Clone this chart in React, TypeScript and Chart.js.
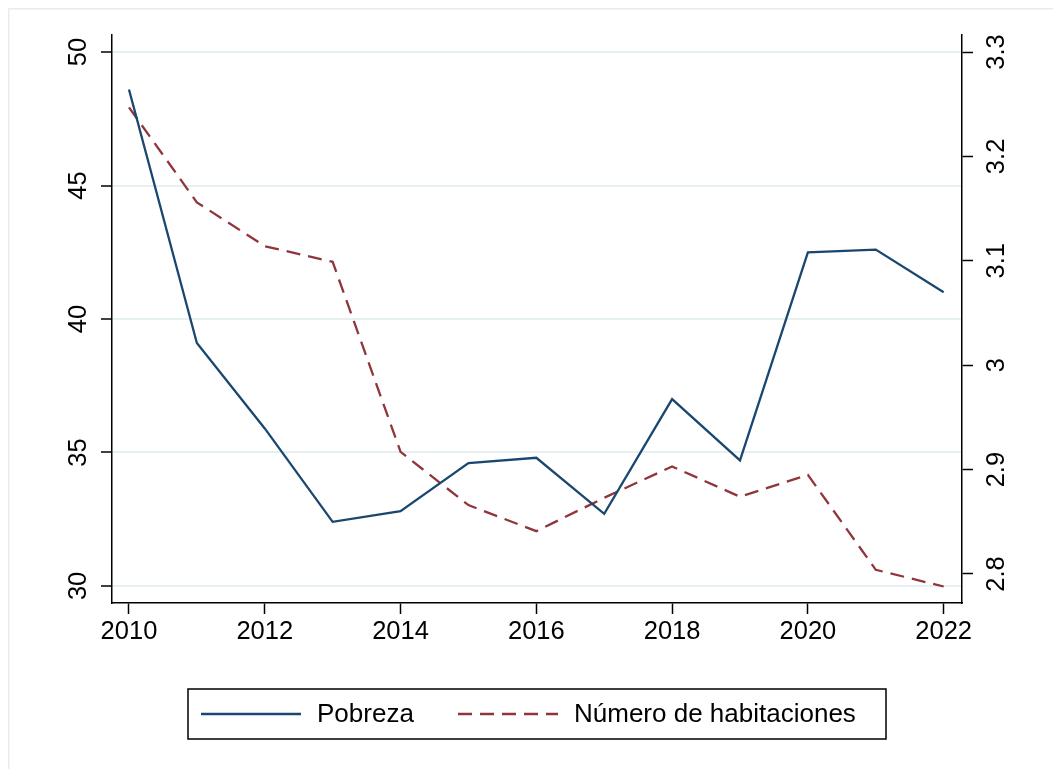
import React, { useEffect, useRef } from "react";
import { Chart, registerables } from "chart.js";

Chart.register(...registerables);

const years = [2010, 2011, 2012, 2013, 2014, 2015, 2016, 2017, 2018, 2019, 2020, 2021, 2022];
const pobreza = [48.6, 39.1, 35.9, 32.4, 32.8, 34.6, 34.8, 32.7, 37.0, 34.7, 42.5, 42.6, 41.0];
const habitaciones = [3.247, 3.156, 3.114, 3.099, 2.917, 2.866, 2.841, 2.873, 2.903, 2.874, 2.895, 2.804, 2.788];
const xTicks = [2010, 2012, 2014, 2016, 2018, 2020, 2022];
const leftTicks = [30, 35, 40, 45, 50];
const rightTicks = [2.8, 2.9, 3.0, 3.1, 3.2, 3.3];
const seriesLabels = ["Pobreza", "Número de habitaciones"];

const FONT = "'Liberation Sans', Arial, sans-serif";
const NAVY = "#1a476f";
const MAROON = "#90353b";
const GRID = "#e6eff1";

const framePlugin = {
  id: "frame",
  beforeDraw(chart: any) {
    const ctx = chart.ctx;
    ctx.save();
    ctx.strokeStyle = "#e6edef";
    ctx.lineWidth = 1.5;
    ctx.beginPath();
    ctx.moveTo(0.75, chart.height);
    ctx.lineTo(0.75, 0.75);
    ctx.lineTo(chart.width, 0.75);
    ctx.stroke();
    ctx.restore();
  },
};

const legendPlugin = {
  id: "boxLegend",
  afterDraw(chart: any) {
    const ctx = chart.ctx;
    const area = chart.chartArea;
    const cx = (area.left + area.right) / 2;
    const boxW = 698;
    const boxH = 50;
    const left = cx - boxW / 2;
    const top = area.bottom + 86;
    const midY = top + boxH / 2;
    ctx.save();
    ctx.strokeStyle = "#000";
    ctx.lineWidth = 1.5;
    ctx.strokeRect(left, top, boxW, boxH);
    const offsets = [13, 270];
    chart.data.datasets.forEach((ds: any, i: number) => {
      const x0 = left + offsets[i];
      ctx.beginPath();
      ctx.strokeStyle = ds.borderColor;
      ctx.lineWidth = ds.borderWidth;
      ctx.setLineDash(ds.borderDash || []);
      ctx.moveTo(x0, midY);
      ctx.lineTo(x0 + 100, midY);
      ctx.stroke();
      ctx.setLineDash([]);
      ctx.fillStyle = "#000";
      ctx.font = `26px ${FONT}`;
      ctx.textAlign = "left";
      ctx.textBaseline = "middle";
      ctx.fillText(ds.label, x0 + 116, midY + 1);
    });
    ctx.restore();
  },
};

export default function App() {
  const ref = useRef<HTMLCanvasElement | null>(null);

  useEffect(() => {
    if (!ref.current) return;
    const chart = new Chart(ref.current, {
      type: "line",
      data: {
        datasets: [
          {
            label: seriesLabels[0],
            data: years.map((yr, i) => ({ x: yr, y: pobreza[i] })),
            borderColor: NAVY,
            backgroundColor: NAVY,
            borderWidth: 2.3,
            pointRadius: 0,
            tension: 0,
            yAxisID: "y",
          },
          {
            label: seriesLabels[1],
            data: years.map((yr, i) => ({ x: yr, y: habitaciones[i] })),
            borderColor: MAROON,
            backgroundColor: MAROON,
            borderWidth: 2.3,
            borderDash: [14, 8],
            pointRadius: 0,
            tension: 0,
            yAxisID: "y1",
          },
        ],
      },
      options: {
        responsive: false,
        animation: false,
        events: [],
        layout: { padding: { top: 27, bottom: 106, left: 0, right: 0 } },
        plugins: { legend: { display: false }, tooltip: { enabled: false } },
        scales: {
          x: {
            type: "linear",
            min: 2009.75,
            max: 2022.27,
            afterBuildTicks: (s: any) => {
              s.ticks = xTicks.map((v) => ({ value: v }));
            },
            afterFit: (s: any) => {
              s.height = 60;
            },
            grid: {
              drawOnChartArea: false,
              drawTicks: true,
              tickLength: 11,
              tickColor: "#000",
              tickWidth: 1.5,
            },
            border: { display: true, color: "#000", width: 1.5 },
            ticks: {
              color: "#000",
              font: { family: FONT, size: 25.5 },
              padding: 3,
              maxRotation: 0,
              minRotation: 0,
              callback: (v: any) => String(v),
            },
          },
          y: {
            type: "linear",
            position: "left",
            min: 29.36,
            max: 50.64,
            afterBuildTicks: (s: any) => {
              s.ticks = leftTicks.map((v) => ({ value: v }));
            },
            afterFit: (s: any) => {
              s.width = 104;
            },
            grid: {
              color: GRID,
              lineWidth: 2,
              drawTicks: true,
              tickLength: 11,
              tickColor: "#000",
              tickWidth: 1.5,
            },
            border: { display: true, color: "#000", width: 1.5 },
            ticks: {
              color: "#000",
              font: { family: FONT, size: 25.5 },
              minRotation: 90,
              maxRotation: 90,
              crossAlign: "center",
              padding: 8,
              callback: (v: any) => String(v),
            },
          },
          y1: {
            type: "linear",
            position: "right",
            min: 2.7722,
            max: 3.3163,
            afterBuildTicks: (s: any) => {
              s.ticks = rightTicks.map((v) => ({ value: v }));
            },
            afterFit: (s: any) => {
              s.width = 99;
            },
            grid: {
              drawOnChartArea: false,
              drawTicks: true,
              tickLength: 11,
              tickColor: "#000",
              tickWidth: 1.5,
            },
            border: { display: true, color: "#000", width: 1.5 },
            ticks: {
              color: "#000",
              font: { family: FONT, size: 25.5 },
              minRotation: 90,
              maxRotation: 90,
              crossAlign: "center",
              padding: 6,
              callback: (v: any) => String(Math.round(v * 10) / 10),
            },
          },
        },
      } as any,
      plugins: [framePlugin, legendPlugin],
    });
    return () => chart.destroy();
  }, []);

  return (
    <div style={{ width: 1053, height: 761 }}>
      <canvas ref={ref} width={1053} height={761} style={{ display: "block", width: 1053, height: 761 }} />
    </div>
  );
}
